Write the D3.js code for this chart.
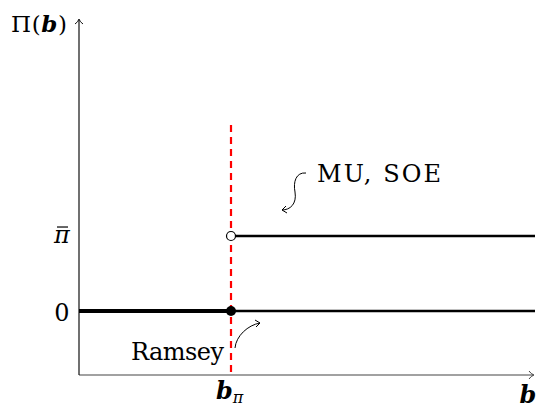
<!DOCTYPE html>
<html><head><meta charset="utf-8">
<script src="https://cdn.jsdelivr.net/npm/d3@7"></script>
<style>body{margin:0;background:#fff}</style>
</head><body>
<svg id="c" width="540" height="416" font-family="DejaVu Serif"></svg>
<script>
// Data
const bPi = 1;          // threshold b_pi
const bMax = 3;         // right end of b axis
const piBar = 1;        // profit level for MU, SOE beyond threshold
const segments = [
  {x0: 0, x1: bPi, y: 0, w: 4.2},
  {x0: bPi, x1: bMax, y: 0, w: 2.4},
  {x0: bPi, x1: bMax, y: piBar, w: 2.4}
];
const yTicks = [{v: piBar, label: "π", bar: true}, {v: 0, label: "0", bar: false}];
const dashTop = 2.48;

const svg = d3.select("#c");
const x = d3.scaleLinear().domain([0, bMax]).range([79, 535]);
const y = d3.scaleLinear().domain([-0.853, 3.88]).range([375, 20]);
const y0 = y(-0.853);

// axes
svg.append("line").attr("x1", x(0)).attr("x2", 533).attr("y1", y0).attr("y2", y0)
  .attr("stroke", "#444").attr("stroke-width", 1.2);
svg.append("line").attr("x1", x(0)).attr("x2", x(0)).attr("y1", y0).attr("y2", 20)
  .attr("stroke", "#111").attr("stroke-width", 1.2);
// arrow tips
svg.append("path").attr("d", `M529,${y0-4} Q531,${y0-1} 534,${y0} Q531,${y0+1} 529,${y0+4}`)
  .attr("fill", "none").attr("stroke", "#444").attr("stroke-width", 1);
svg.append("path").attr("d", `M${x(0)-4},24 Q${x(0)-1},22 ${x(0)},19 Q${x(0)+1},22 ${x(0)+4},24`)
  .attr("fill", "none").attr("stroke", "#111").attr("stroke-width", 1);

// segments
svg.selectAll("line.seg").data(segments).join("line").attr("class", "seg")
  .attr("x1", d => x(d.x0)).attr("x2", d => x(d.x1))
  .attr("y1", d => y(d.y)).attr("y2", d => y(d.y))
  .attr("stroke", "#000").attr("stroke-width", d => d.w);

// dashed red line
svg.append("line").attr("x1", x(bPi)).attr("x2", x(bPi)).attr("y1", y(dashTop)).attr("y2", y0)
  .attr("stroke", "#f00").attr("stroke-width", 2.2).attr("stroke-dasharray", "7,5");

// points
svg.append("circle").attr("cx", x(bPi)).attr("cy", y(0)).attr("r", 5).attr("fill", "#000");
svg.append("circle").attr("cx", x(bPi)).attr("cy", y(piBar)).attr("r", 4.5).attr("fill", "#fff")
  .attr("stroke", "#000").attr("stroke-width", 1.2);

// tick labels
svg.selectAll("text.yt").data(yTicks).join("text").attr("class", "yt")
  .attr("x", 62).attr("y", d => y(d.v) + (d.bar ? 7 : 10)).attr("text-anchor", "middle")
  .attr("font-size", 24).attr("font-style", d => d.bar ? "italic" : "normal").text(d => d.label);
svg.selectAll("line.bar").data(yTicks.filter(d => d.bar)).join("line").attr("class", "bar")
  .attr("x1", 57).attr("x2", 68).attr("y1", d => y(d.v) - 9).attr("y2", d => y(d.v) - 9)
  .attr("stroke", "#000").attr("stroke-width", 1.2);

// axis titles
const t1 = svg.append("text").attr("x", 11).attr("y", 32).attr("font-size", 23).attr("textLength", 56);
t1.append("tspan").text("Π(");
t1.append("tspan").attr("font-weight", "bold").attr("font-style", "italic").text("b");
t1.append("tspan").text(")");

const t2 = svg.append("text").attr("x", 216).attr("y", 399).attr("font-size", 24);
t2.append("tspan").attr("font-weight", "bold").attr("font-style", "italic").text("b");
t2.append("tspan").attr("font-style", "italic").attr("font-size", 16).attr("dy", 4).text("π");

svg.append("text").attr("x", 528).attr("y", 403).attr("text-anchor", "middle").attr("font-size", 24)
  .attr("font-weight", "bold").attr("font-style", "italic").text("b");

// annotations
svg.append("text").attr("x", 317).attr("y", 182).attr("font-size", 24).attr("textLength", 124).text("MU, SOE");
svg.append("text").attr("x", 131).attr("y", 360).attr("font-size", 24).attr("textLength", 93).text("Ramsey");

svg.append("path").attr("d", "M306,173 C296,172 293,182 295,192 C297,204 290,210 282,210")
  .attr("fill", "none").attr("stroke", "#000").attr("stroke-width", 1);
svg.append("path").attr("d", "M286,206 L282,210 L287,213").attr("fill", "none").attr("stroke", "#000").attr("stroke-width", 1);

svg.append("path").attr("d", "M235,348 C236,336 248,325 260,323")
  .attr("fill", "none").attr("stroke", "#000").attr("stroke-width", 1);
svg.append("path").attr("d", "M255,320 L260,323 L256,327").attr("fill", "none").attr("stroke", "#000").attr("stroke-width", 1);
</script>
</body></html>
